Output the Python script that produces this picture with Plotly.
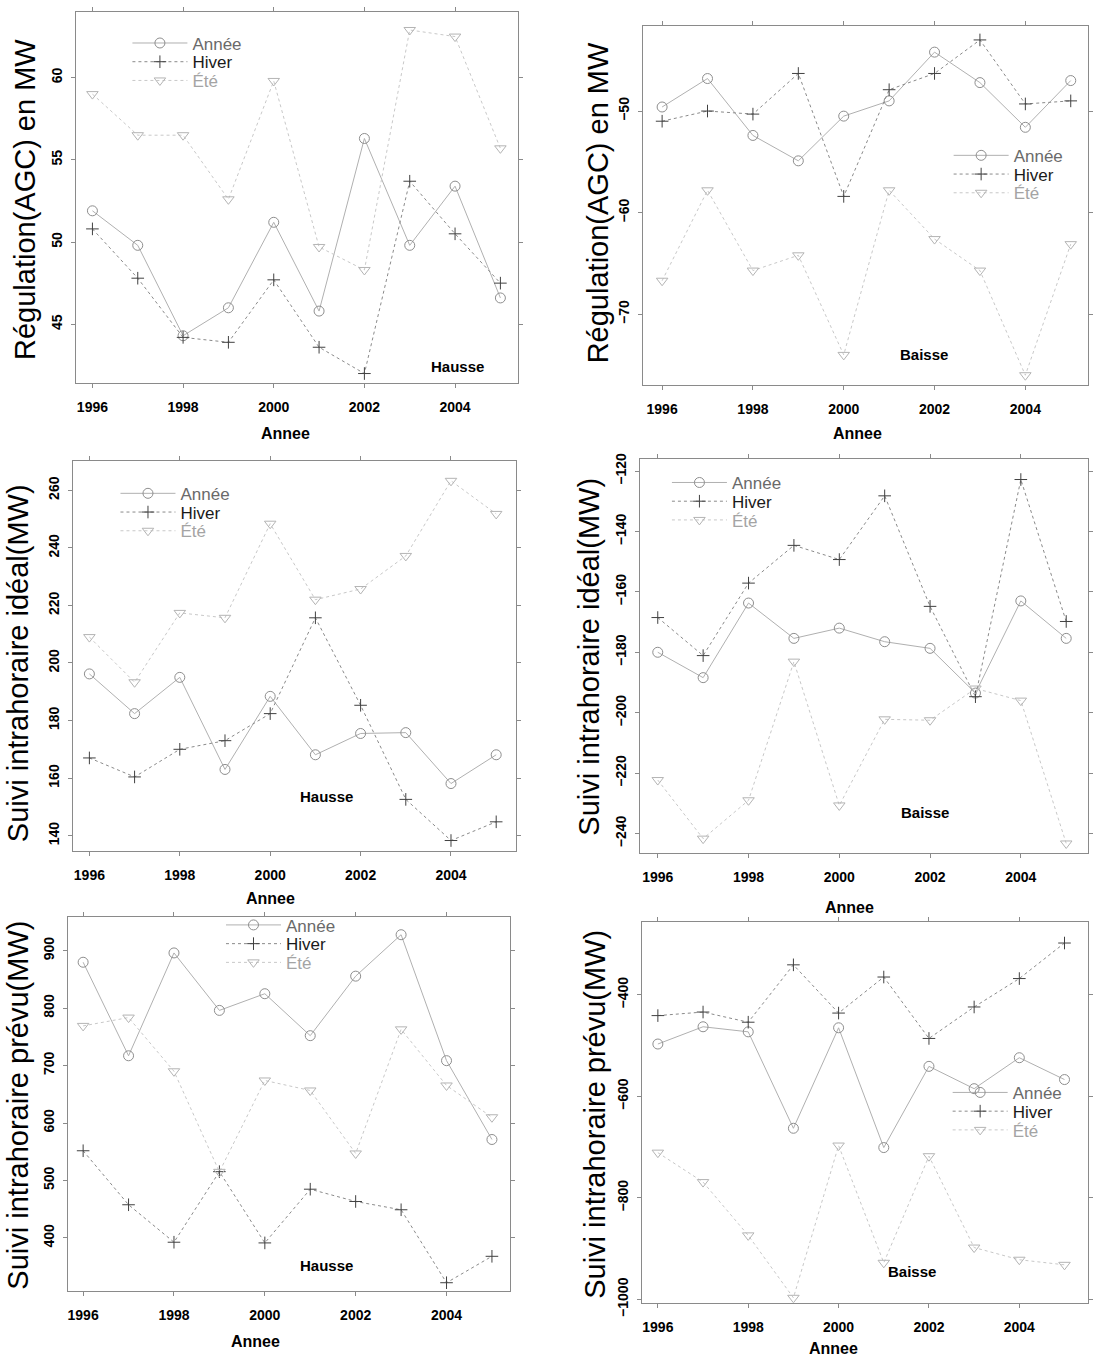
import plotly.graph_objects as go

W, H = 1093, 1369

years = [1996, 1997, 1998, 1999, 2000, 2001, 2002, 2003, 2004, 2005]
x_ticks = [1996, 1998, 2000, 2002, 2004]
series_names = ["Année", "Hiver", "Été"]

# Panel 1: Régulation (AGC) - Hausse
annee1 = [51.9, 49.8, 44.3, 46.0, 51.2, 45.8, 56.3, 49.8, 53.4, 46.6]
hiver1 = [50.8, 47.8, 44.2, 43.9, 47.7, 43.6, 42.0, 53.7, 50.5, 47.5]
ete1 = [59.0, 56.5, 56.5, 52.6, 59.8, 49.7, 48.3, 62.9, 62.5, 55.7]

# Panel 2: Régulation (AGC) - Baisse
annee2 = [-49.6, -46.8, -52.4, -54.9, -50.5, -49.0, -44.2, -47.2, -51.6, -47.0]
hiver2 = [-51.0, -50.0, -50.3, -46.3, -58.4, -47.9, -46.3, -43.0, -49.3, -49.0]
ete2 = [-66.7, -57.8, -65.7, -64.2, -74.0, -57.8, -62.6, -65.7, -76.0, -63.1]

# Panel 3: Suivi intrahoraire idéal - Hausse
annee3 = [196.2, 182.4, 195.0, 163.0, 188.4, 168.1, 175.5, 175.8, 158.1, 168.1]
hiver3 = [167.0, 160.4, 170.0, 173.0, 182.4, 215.7, 185.3, 152.6, 138.3, 144.8]
ete3 = [209.0, 193.3, 217.4, 215.7, 248.4, 222.0, 225.7, 237.2, 263.3, 251.8]

# Panel 4: Suivi intrahoraire idéal - Baisse
annee4 = [-180.0, -188.4, -163.7, -175.4, -172.0, -176.5, -178.7, -193.5, -163.0, -175.4]
hiver4 = [-168.5, -181.1, -157.1, -144.6, -149.3, -128.2, -164.8, -194.7, -122.8, -169.8]
ete4 = [-222.3, -241.7, -229.0, -183.1, -230.7, -202.2, -202.5, -192.0, -196.0, -243.3]

# Panel 5: Suivi intrahoraire prévu - Hausse
annee5 = [879.8, 717.0, 896.0, 796.0, 825.0, 752.0, 855.6, 927.7, 708.5, 571.3]
hiver5 = [551.7, 457.7, 392.5, 515.3, 391.3, 484.8, 463.4, 449.0, 322.0, 368.0]
ete5 = [769.0, 783.5, 690.0, 515.0, 674.0, 656.6, 547.0, 763.0, 665.3, 610.0]

# Panel 6: Suivi intrahoraire prévu - Baisse
annee6 = [-497, -463, -473, -663, -465, -701, -541, -585, -524, -567]
hiver6 = [-441, -434, -454, -341, -436, -365, -486, -424, -368, -298]
ete6 = [-711, -769, -874, -997, -697, -928, -718, -898, -922, -932]

ytitles = ["Régulation(AGC) en MW", "Régulation(AGC) en MW",
           "Suivi intrahoraire idéal(MW)", "Suivi intrahoraire idéal(MW)",
           "Suivi intrahoraire prévu(MW)", "Suivi intrahoraire prévu(MW)"]
panel_labels = ["Hausse", "Baisse", "Hausse", "Baisse", "Hausse", "Baisse"]


def px(x):
    return x / W


def py(y):
    return 1 - y / H


panels = [
    dict(data=(annee1, hiver1, ete1), frame=(76, 6, 520, 383), xr=[1995.63, 2005.38],
         yr=[41.4, 64.0], dtick=5, ytx=25, yty=196, lab=(460, 366), leg=(193, 38), xt=(287, 434)),
    dict(data=(annee2, hiver2, ete2), frame=(646, 20, 1093, 385), xr=[1995.58, 2005.38],
         yr=[-77.0, -41.6], dtick=10, ytx=601, yty=200, lab=(928, 354), leg=(1018, 152), xt=(861, 434)),
    dict(data=(annee3, hiver3, ete3), frame=(73, 462, 518, 858), xr=[1995.63, 2005.43],
         yr=[134.5, 270.1], dtick=20, ytx=18, yty=667, lab=(328, 802), leg=(181, 495), xt=(272, 906)),
    dict(data=(annee4, hiver4, ete4), frame=(643, 460, 1093, 860), xr=[1995.61, 2005.48],
         yr=[-246.6, -116.1], dtick=20, ytx=592, yty=660, lab=(929, 818), leg=(735, 484), xt=(853, 915)),
    dict(data=(annee5, hiver5, ete5), frame=(68, 924, 512, 1304), xr=[1995.66, 2005.39],
         yr=[307.7, 959.4], dtick=100, ytx=18, yty=1115, lab=(328, 1278), leg=(287, 933), xt=(257, 1355)),
    dict(data=(annee6, hiver6, ete6), frame=(645, 930, 1093, 1316), xr=[1995.65, 2005.52],
         yr=[-1006.8, -257.4], dtick=200, ytx=597, yty=1125, lab=(916, 1284), leg=(1017, 1103), xt=(837, 1362)),
]

styles = [
    dict(symbol="circle-open", mcolor="#8e8e8e", lcolor="#b0b0b0", dash="solid", size=10, tcol="#6a6a6a"),
    dict(symbol="cross-thin-open", mcolor="#404040", lcolor="#8a8a8a", dash="dot", size=9, tcol="#1a1a1a"),
    dict(symbol="triangle-down-open", mcolor="#b4b4b4", lcolor="#c8c8c8", dash="dot", size=10, tcol="#a4a4a4"),
]

fig = go.Figure()
annotations = []
layout = {}
font_family = "Liberation Sans, Arial, sans-serif"
ROW_GAP = 19
TEXT_OFFSET = 65  # legend left edge to legend text start (itemwidth 55)

leg_count = 0
for i, p in enumerate(panels):
    k = "" if i == 0 else str(i + 1)
    xa, ya = "x" + k, "y" + k
    for s_idx, (vals, st) in enumerate(zip(p["data"], styles)):
        leg_count += 1
        leg = "legend" if leg_count == 1 else "legend" + str(leg_count)
        fig.add_trace(go.Scatter(
            x=years, y=vals, mode="lines+markers", xaxis=xa, yaxis=ya,
            name=f"<span style='color:{st['tcol']}'>{series_names[s_idx]}</span>",
            legend=leg,
            line=dict(color=st["lcolor"], width=1, dash=st["dash"]),
            marker=dict(symbol=st["symbol"], size=st["size"], color=st["mcolor"],
                        line=dict(color=st["mcolor"], width=1)),
        ))
        layout[leg] = dict(x=px(p["leg"][0] - TEXT_OFFSET), y=py(p["leg"][1] + s_idx * ROW_GAP),
                           xanchor="left", yanchor="middle",
                           bgcolor="rgba(0,0,0,0)", borderwidth=0, tracegroupgap=0,
                           font=dict(family=font_family, size=17, color="#333"), itemwidth=55)
    l, t, r, b = p["frame"]
    axis_common = dict(showline=True, linecolor="#8a8a8a", linewidth=1, mirror="allticks",
                       ticks="outside", ticklen=4, tickcolor="#8a8a8a", showgrid=False,
                       zeroline=False, tickfont=dict(family=font_family, size=14, color="black",
                                                     weight="bold"))
    layout["xaxis" + k] = dict(axis_common, domain=[px(l), px(r)], range=p["xr"], anchor=ya,
                               tickvals=x_ticks, ticklabelstandoff=7)
    layout["yaxis" + k] = dict(axis_common, domain=[py(b), py(t)], range=p["yr"], anchor=xa,
                               dtick=p["dtick"], tickangle=-90, ticklabelstandoff=3)
    annotations.append(dict(text=ytitles[i], x=px(p["ytx"]), y=py(p["yty"]), xref="paper",
                            yref="paper", textangle=-90, showarrow=False, xanchor="center",
                            yanchor="middle", font=dict(family=font_family, size=29, color="black")))
    annotations.append(dict(text="<b>Annee</b>", x=px(p["xt"][0]), y=py(p["xt"][1]), xref="paper",
                            yref="paper", showarrow=False, xanchor="center", yanchor="middle",
                            font=dict(family=font_family, size=16, color="black")))
    annotations.append(dict(text="<b>" + panel_labels[i] + "</b>", x=px(p["lab"][0]), y=py(p["lab"][1]),
                            xref="paper", yref="paper", showarrow=False, xanchor="center",
                            yanchor="middle", font=dict(family=font_family, size=15, color="black")))

fig.update_layout(
    width=W, height=H, margin=dict(l=0, r=0, t=0, b=0),
    paper_bgcolor="white", plot_bgcolor="white",
    annotations=annotations, showlegend=True,
    **layout,
)

fig.write_html("out.html")
